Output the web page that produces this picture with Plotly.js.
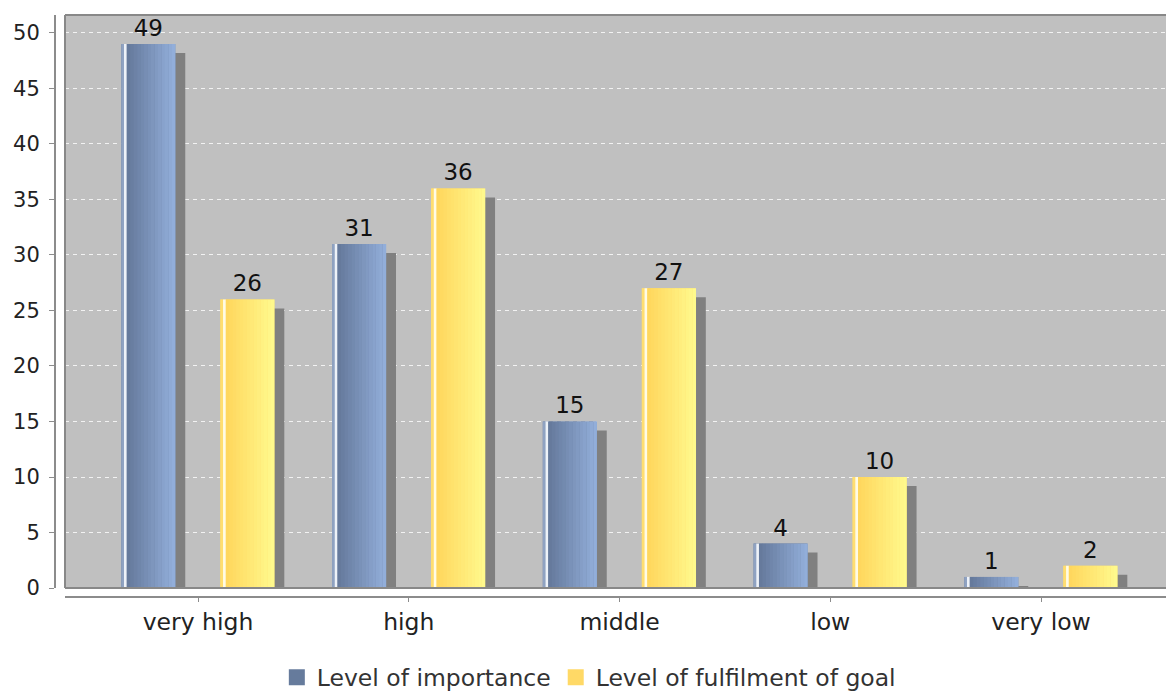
<!DOCTYPE html>
<html>
<head>
<meta charset="utf-8">
<script src="https://cdn.plot.ly/plotly-3.0.1.min.js"></script>
<style>html,body{margin:0;padding:0;background:#fff;}#chart{width:1166px;height:692px;}</style>
</head>
<body>
<div id="chart"></div>
<script>
// ---- data ----
const categories = ['very high', 'high', 'middle', 'low', 'very low'];
const importance = [49, 31, 15, 4, 1];
const fulfilment = [26, 36, 27, 10, 2];
const seriesNames = ['Level of importance', 'Level of fulfilment of goal'];

// ---- styling ----
const FONT = 'DejaVu Sans, sans-serif';
const BW = 0.256;            // bar width (category units)
const CENTERS = [-0.236, 0.234];
const SHX = 0.0475;          // shadow x shift (category units)
const SHY = 0.81;            // shadow y drop (value units)

const styles = [
  {legend: '#667b9c', edge: '#8fa2c2', hi: '#eef2f8', g0: [100, 120, 154], g1: [148, 176, 220]},
  {legend: '#ffd966', edge: '#ffde70', hi: '#fffbe6', g0: [255, 214, 92], g1: [255, 250, 142]}
];

function rgb(a) { return 'rgb(' + a.map(v => Math.round(v)).join(',') + ')'; }
function mix(a, b, t) { return a.map((v, i) => v + (b[i] - v) * t); }

const data = [];
const seriesValues = [importance, fulfilment];

// shadows
seriesValues.forEach((vals, s) => {
  data.push({
    type: 'bar', x: categories, y: vals.map(v => Math.max(v - SHY, 0)),
    width: BW, offset: CENTERS[s] - BW / 2 + SHX,
    marker: {color: '#808080', line: {width: 0}},
    hoverinfo: 'skip', showlegend: false
  });
});

// base bars with labels
seriesValues.forEach((vals, s) => {
  data.push({
    type: 'bar', x: categories, y: vals, name: seriesNames[s],
    width: BW, offset: CENTERS[s] - BW / 2,
    marker: {color: styles[s].legend, line: {width: 0}},
    text: vals.map(String), textposition: 'outside', cliponaxis: false,
    textfont: {family: FONT, size: 23, color: '#111'},
    showlegend: false
  });
});

// gradient strips
seriesValues.forEach((vals, s) => {
  const st = styles[s];
  const strips = [[0, 0.05, st.edge], [0.05, 0.1, st.hi]];
  const n = 14;
  for (let k = 0; k < n; k++) {
    const a = 0.1 + 0.9 * k / n, b = 0.1 + 0.9 * (k + 1) / n;
    strips.push([a, b, rgb(mix(st.g0, st.g1, (k + 0.5) / n))]);
  }
  strips.forEach(([a, b, c]) => {
    data.push({
      type: 'bar', x: categories, y: vals,
      width: BW * (b - a) + 0.001, offset: CENTERS[s] - BW / 2 + BW * a,
      marker: {color: c, line: {width: 0}},
      hoverinfo: 'skip', showlegend: false
    });
  });
});

// legend entries (square swatches)
seriesNames.forEach((nm, s) => {
  data.push({
    type: 'scatter', mode: 'markers', x: [categories[0]], y: [null], name: nm,
    marker: {symbol: 'square', size: 16, color: styles[s].legend, line: {width: 0}},
    hoverinfo: 'skip', showlegend: true
  });
});

const layout = {
  width: 1166, height: 692,
  margin: {l: 55, r: 0, t: 15, b: 95, autoexpand: false},
  paper_bgcolor: '#ffffff', plot_bgcolor: '#c0c0c0',
  barmode: 'overlay',
  font: {family: FONT, size: 21, color: '#222'},
  showlegend: true,
  legend: {orientation: 'h', xref: 'container', yref: 'container',
           x: 0.505, xanchor: 'center', y: 0.021, yanchor: 'middle',
           font: {family: FONT, size: 23.5, color: '#333'}, itemwidth: 30, traceorder: 'normal',
           tracegroupgap: 0},
  xaxis: {
    type: 'category', domain: [10 / 1111, 1], range: [-0.6311, 4.593],
    anchor: 'free', position: 0,
    showline: true, linecolor: '#8c8c8c', linewidth: 2,
    ticks: 'outside', ticklen: 4, tickcolor: '#8c8c8c', tickwidth: 1,
    showgrid: false, zeroline: false,
    tickfont: {family: FONT, size: 23.5, color: '#222'}
  },
  yaxis: {
    domain: [9 / 582, 1], range: [0, 51.62],
    anchor: 'free', position: 0,
    tickmode: 'linear', tick0: 0, dtick: 5,
    showline: true, linecolor: '#8c8c8c', linewidth: 2,
    ticks: 'outside', ticklen: 5, tickcolor: '#8c8c8c', tickwidth: 1,
    ticklabelstandoff: 5,
    showgrid: true, gridcolor: '#f2f2f2', gridwidth: 1, griddash: '4px,4px',
    zeroline: false,
    tickfont: {family: FONT, size: 21, color: '#222'}
  },
  shapes: [
    {type: 'line', xref: 'x domain', yref: 'y domain', x0: 0, x1: 1, y0: 1, y1: 1, line: {color: '#888', width: 2}},
    {type: 'line', xref: 'x domain', yref: 'y domain', x0: 0, x1: 0, y0: 0, y1: 1, line: {color: '#888', width: 2}},
    {type: 'line', xref: 'x domain', yref: 'y domain', x0: 0, x1: 1, y0: 0, y1: 0, line: {color: '#888', width: 2}}
  ]
};

Plotly.newPlot('chart', data, layout, {displayModeBar: false, staticPlot: true});
</script>
</body>
</html>
